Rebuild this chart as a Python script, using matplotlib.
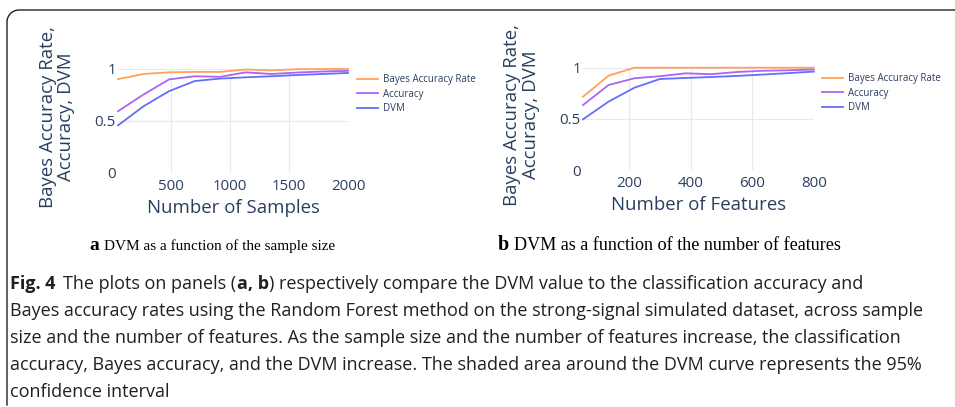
import numpy as np
import matplotlib
matplotlib.use("Agg")
import matplotlib.pyplot as plt
from matplotlib.lines import Line2D

# --- data ---
samples = [50, 267, 483, 700, 917, 1133, 1350, 1567, 1783, 2000]
bayes_a = [0.903, 0.952, 0.968, 0.972, 0.972, 0.995, 0.987, 0.998, 1.0, 1.0]
acc_a = [0.594, 0.755, 0.900, 0.930, 0.925, 0.968, 0.952, 0.966, 0.976, 0.982]
dvm_a = [0.458, 0.642, 0.787, 0.884, 0.908, 0.920, 0.930, 0.942, 0.952, 0.962]

features = [50, 133, 217, 300, 383, 467, 550, 633, 717, 800]
bayes_b = [0.717, 0.922, 1.0, 1.0, 1.0, 1.0, 1.0, 1.0, 1.0, 1.0]
acc_b = [0.636, 0.831, 0.897, 0.917, 0.945, 0.937, 0.958, 0.970, 0.975, 0.982]
dvm_b = [0.497, 0.669, 0.805, 0.890, 0.900, 0.909, 0.920, 0.933, 0.947, 0.962]

series_names = ["Bayes Accuracy Rate", "Accuracy", "DVM"]
series_colors = ["#FFA15A", "#AB63FA", "#636EFA"]
y_ticks = [0, 0.5, 1]
y_tick_labels = ["0", "0.5", "1"]
xticks_a = [500, 1000, 1500, 2000]
xticks_b = [200, 400, 600, 800]

sub_a = ("a", "DVM as a function of the sample size")
sub_b = ("b", "DVM as a function of the number of features")
caption = [
    [("Fig. 4", "bold"), ("The plots on panels (", "normal"), ("a, b", "bold"),
     (") respectively compare the DVM value to the classification accuracy and", "normal")],
    [("Bayes accuracy rates using the Random Forest method on the strong-signal simulated dataset, across sample", "normal")],
    [("size and the number of features. As the sample size and the number of features increase, the classification", "normal")],
    [("accuracy, Bayes accuracy, and the DVM increase. The shaded area around the DVM curve represents the 95%", "normal")],
    [("confidence interval", "normal")],
]

W, H = 955, 407
TXT = "#2a3f5f"
GRID = "#E6EAF0"
FONT = "Open Sans"


def fx(px):
    return px / W


def fy(py):
    return 1 - py / H


fig = plt.figure(figsize=(W / 100, H / 100), dpi=100)
fig.patch.set_facecolor("white")


def panel(rect, x, ys, xticks, xlim, xlabel, legend_xy):
    ax = fig.add_axes(rect)
    for vals, name, col in zip(ys, series_names, series_colors):
        ax.plot(x, vals, color=col, lw=1.3, label=name, clip_on=False, zorder=3)
    ax.set_xlim(*xlim)
    ax.set_ylim(0, 1)
    ax.set_xticks(xticks)
    ax.set_yticks(y_ticks)
    ax.set_yticklabels(y_tick_labels)
    for s in ax.spines.values():
        s.set_visible(False)
    ax.tick_params(length=0, labelsize=10.8, labelcolor=TXT)
    ax.tick_params(axis="x", pad=4)
    ax.tick_params(axis="y", pad=1.5)
    for lab in ax.get_xticklabels() + ax.get_yticklabels():
        lab.set_family(FONT)
    ax.grid(True, color=GRID, lw=0.8, zorder=0)
    ax.yaxis.get_gridlines()[0].set_visible(False)
    ax.set_axisbelow(True)
    ax.set_xlabel(xlabel, fontsize=13.4, color=TXT, family=FONT)
    ax.xaxis.set_label_coords(0.5, -0.34)
    ax.xaxis.label.set_verticalalignment("center")
    ax.set_ylabel("Bayes Accuracy Rate,\nAccuracy, DVM", fontsize=13.4, color=TXT,
                  family=FONT, linespacing=1.05, multialignment="center")
    ax.yaxis.set_label_coords(-0.265, 0.54)
    ax.yaxis.label.set_verticalalignment("center")
    ax.legend(loc="upper left", bbox_to_anchor=legend_xy, bbox_transform=fig.transFigure,
              frameon=False, borderpad=0, borderaxespad=0, handlelength=2.2,
              handletextpad=0.5, labelspacing=0.38,
              prop={"family": FONT, "size": 7}, labelcolor=TXT)
    return ax


panel([fx(118), fy(173), 230 / W, 104 / H], samples, [bayes_a, acc_a, dvm_a],
      xticks_a, (50, 2000), "Number of Samples", (fx(357), fy(74)))
panel([fx(583), fy(170.3), 230.8 / W, 102.6 / H], features, [bayes_b, acc_b, dvm_b],
      xticks_b, (50, 800), "Number of Features", (fx(822), fy(73)))

renderer = fig.canvas.get_renderer()


def put_run(x, y, pieces, first_gap=0):
    # place text pieces one after another on a common baseline (pixel coords)
    for i, (s, kw) in enumerate(pieces):
        t = fig.text(fx(x), fy(y), s, va="baseline", ha="left", **kw)
        bb = t.get_window_extent(renderer=renderer)
        x = bb.x1 + (first_gap if i == 0 else 0)


# subcaptions (serif)
serif = "Liberation Serif"
put_run(89, 250, [(sub_a[0], dict(family=serif, weight="bold", fontsize=14, color="black")),
                  (sub_a[1], dict(family=serif, fontsize=11, color="black"))], first_gap=5)
put_run(498, 250, [(sub_b[0], dict(family=serif, weight="bold", fontsize=14.5, color="black")),
                   (sub_b[1], dict(family=serif, fontsize=13.1, color="black"))], first_gap=5)

# caption
cap_col = "#231f20"
for i, line in enumerate(caption):
    pieces = [(s, dict(family=FONT, weight=w, fontsize=13.0, color=cap_col)) for s, w in line]
    put_run(10, 289 + 27 * i, pieces, first_gap=8)

# frame around the figure block (rounded top-left corner)
r = 12
ang = np.linspace(0, np.pi / 2, 20)
px = [7] + list(7 + r - r * np.cos(ang)) + [W]
py = [405] + list(10 + r - r * np.sin(ang)) + [10]
fig.add_artist(Line2D([fx(v) for v in px], [fy(v) for v in py], color=cap_col, lw=1.0,
                      transform=fig.transFigure))

fig.savefig("out.png", dpi=100)
